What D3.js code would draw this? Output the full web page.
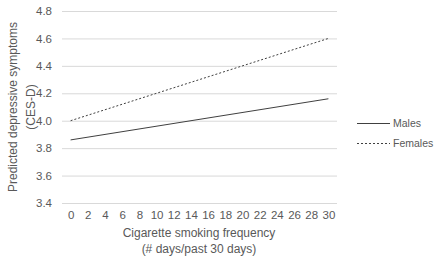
<!DOCTYPE html>
<html><head><meta charset="utf-8">
<script src="https://cdn.jsdelivr.net/npm/d3@7"></script>
<style>body{margin:0;background:#fff}svg{display:block}text{font-family:"Liberation Sans",Arial,sans-serif;fill:#595959}</style>
</head><body>
<svg id="c" width="438" height="259"></svg>
<script>
const xTicks = [0,2,4,6,8,10,12,14,16,18,20,22,24,26,28,30];
const yTicks = [3.4,3.6,3.8,4.0,4.2,4.4,4.6,4.8];
const seriesNames = ["Males","Females"];
const malesValues = [[0,3.86],[30,4.16]];
const femalesValues = [[0,4.0],[30,4.6]];

(function(){
const svg = d3.select("#c");
const mL = 62, mR = 337, mT = 11, mB = 203;
const x = d3.scalePoint().domain(xTicks).range([mL, mR]).padding(0.5);
const xl = d3.scaleLinear().domain([0,30]).range([x(0), x(30)]);
const y = d3.scaleLinear().domain([3.4,4.8]).range([mB, mT]);

const yAxis = d3.axisLeft(y).tickValues(yTicks).tickSize(-(mR-mL)).tickFormat(d3.format(".1f")).tickPadding(10);
const gy = svg.append("g").attr("transform",`translate(${mL},0)`).call(yAxis);
gy.select(".domain").remove();
gy.selectAll("line").attr("stroke","#d9d9d9").attr("stroke-width",1);
gy.selectAll("text").attr("font-size","11.5px").attr("fill","#595959");

const xAxis = d3.axisBottom(x).tickSize(0).tickPadding(8);
const gx = svg.append("g").attr("transform",`translate(0,${mB})`).call(xAxis);
gx.select(".domain").remove();
gx.selectAll("text").attr("font-size","11.5px").attr("fill","#595959");

const line = d3.line().x(d=>xl(d[0])).y(d=>y(d[1]));
svg.append("path").datum(malesValues).attr("d",line).attr("fill","none").attr("stroke","#404040").attr("stroke-width",1);
svg.append("path").datum(femalesValues).attr("d",line).attr("fill","none").attr("stroke","#404040").attr("stroke-width",1).attr("stroke-dasharray","2,2");

const lg = svg.append("g");
[[null,123.5],["2,2",143.5]].forEach(([dash,yy],i)=>{
  lg.append("line").attr("x1",357).attr("x2",390).attr("y1",yy).attr("y2",yy)
    .attr("stroke","#404040").attr("stroke-width",1).attr("stroke-dasharray",dash);
  lg.append("text").attr("x",393).attr("y",yy).attr("dy","0.35em").attr("font-size","10.5px").text(seriesNames[i]);
});

svg.append("text").attr("x",199).attr("y",233).attr("dy","0.35em").attr("text-anchor","middle").attr("font-size","12px").text("Cigarette smoking frequency");
svg.append("text").attr("x",199).attr("y",249).attr("dy","0.35em").attr("text-anchor","middle").attr("font-size","12px").text("(# days/past 30 days)");
svg.append("text").attr("transform","translate(13,107) rotate(-90)").attr("dy","0.35em").attr("text-anchor","middle").attr("font-size","12px").text("Predicted depressive symptoms");
svg.append("text").attr("transform","translate(31,107) rotate(-90)").attr("dy","0.35em").attr("text-anchor","middle").attr("font-size","12px").text("(CES-D)");
})();
</script>
</body></html>
